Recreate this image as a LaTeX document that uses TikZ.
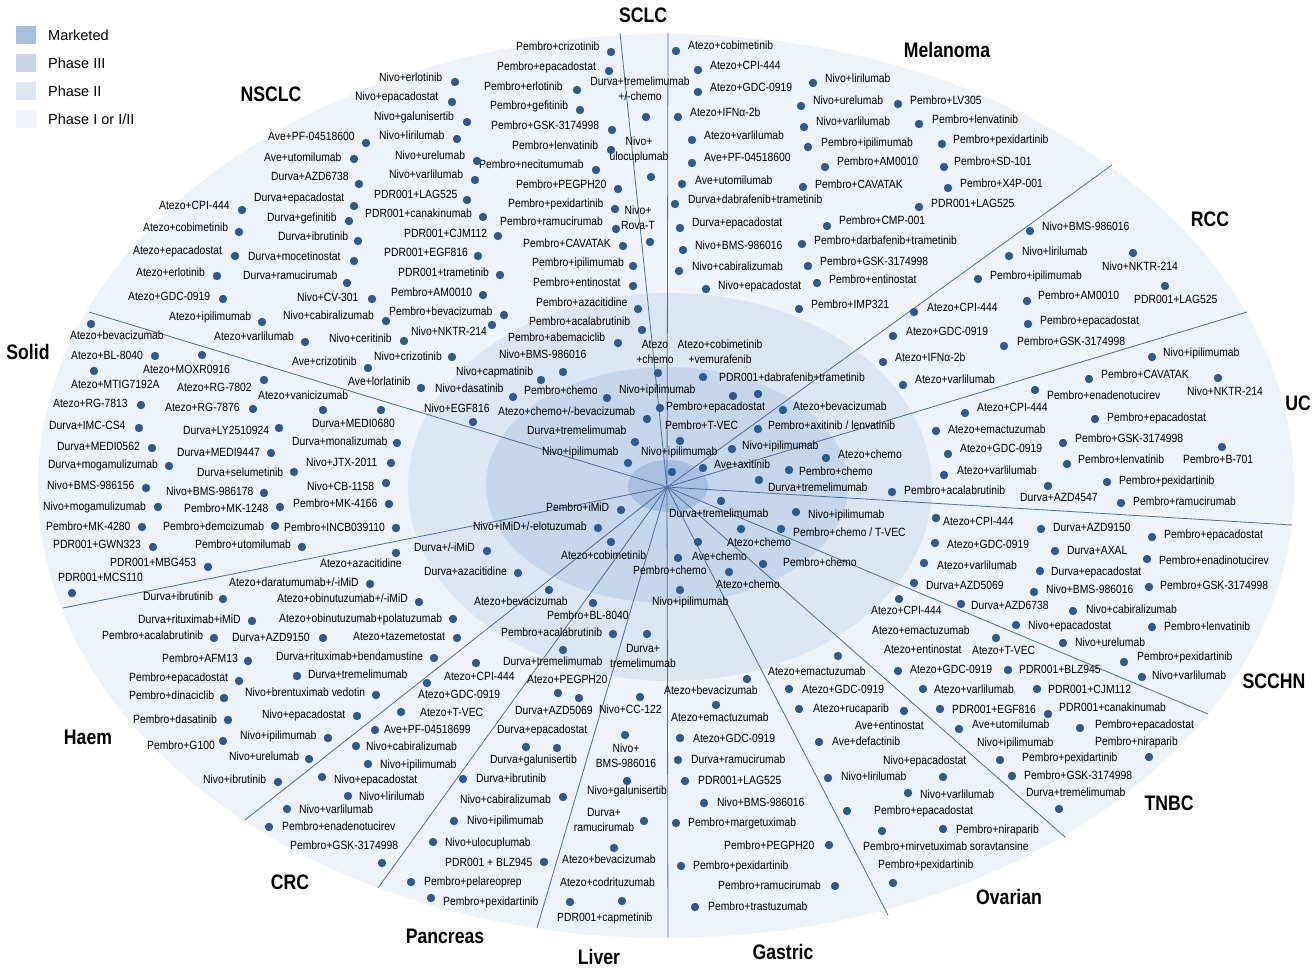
\documentclass[tikz,border=0pt]{standalone}
\usepackage{fontspec}
\setmainfont{Liberation Sans}
\newfontfamily\drugfont[FakeStretch=0.87]{Liberation Sans}
\newfontfamily\catfont[FakeStretch=0.84]{Liberation Sans}
\definecolor{phaseone}{HTML}{EEF3F9}
\definecolor{phasetwo}{HTML}{DCE6F2}
\definecolor{phasethree}{HTML}{C6D6EB}
\definecolor{marketed}{HTML}{A6BFDF}
\definecolor{dotblue}{HTML}{2D5B8F}
\definecolor{linecol}{HTML}{4E6E9E}
\tikzset{
  drug/.style={anchor=west,inner sep=0pt,text height=8pt,text depth=2.3pt,text=black,
    font=\drugfont\fontsize{11.9}{12.5}\selectfont},
  drugtwo/.style={inner sep=0pt,align=center,text=black,
    font=\drugfont\fontsize{11.9}{15}\selectfont},
  dot/.style={fill=dotblue},
  sector/.style={draw=linecol,line width=0.8pt},
  catlabel/.style={inner sep=0pt,font=\catfont\bfseries\fontsize{21}{24}\selectfont},
  legtext/.style={anchor=west,inner sep=0pt,font=\fontsize{14.5}{16}\selectfont},
}
\begin{document}
\begin{tikzpicture}[x=1pt,y=-1pt]
\useasboundingbox (0,0) rectangle (1316,974);
% Phasen
\fill[phaseone] (666,486) ellipse [x radius=628,y radius=452];
\fill[phasetwo] (670,487) ellipse [x radius=262,y radius=194];
\fill[phasethree] (667,485) ellipse [x radius=181,y radius=118];
\fill[marketed] (668,486) ellipse [x radius=40,y radius=26];
% Legende
\foreach \c/\y/\lbl [count=\i] in {marketed/35/{Marketed},phasethree/63/{Phase III},phasetwo/91/{Phase II},phaseone/119/{Phase I or I/II}}{
  \fill[\c] (16,\y-9) rectangle (36,\y+9);
  \node[legtext] (leg\i) at (48,\y) {\lbl};
}
% Sektoren
\coordinate (ctr) at (667,487);
\foreach \x/\y [count=\i] in {620/33,668/33,1112/165,1247/312,1292/525,1208/714,1065/837,888/915,668/937,537/928,378/888,245/820,63/608,89/312}{
  \coordinate (e\i) at (\x,\y);
  \draw[sector] (ctr) -- (e\i);
}
% Indikationen
\foreach \x/\y/\lbl [count=\i] in {643/15/SCLC,947/50/Melanoma,271/94/NSCLC,1210/219/RCC,28/352/Solid,1298/403/UC,1274/681/SCCHN,88/737/Haem,1169/803/TNBC,290/882/CRC,1009/897/Ovarian,445/936/Pancreas,599/957/Liver,783/952/Gastric}
  \node[catlabel] (cat\i) at (\x,\y) {\lbl};
% NSCLC
\foreach \x/\y/\lbl [count=\i] in {268/138/{Ave+PF-04518600},264/159/{Ave+utomilumab},271/178/{Durva+AZD6738},254/199/{Durva+epacadostat},267/219/{Durva+gefinitib},278/238/{Durva+ibrutinib},248/258/{Durva+mocetinostat},243/277/{Durva+ramucirumab},297/299/{Nivo+CV-301},283/317/{Nivo+cabiralizumab},159/207/{Atezo+CPI-444},143/229/{Atezo+cobimetinib},133/252/{Atezo+epacadostat},136/274/{Atezo+erlotinib},128/298/{Atezo+GDC-0919},169/318/{Atezo+ipilimumab},214/338/{Atezo+varlilumab},329/340/{Nivo+ceritinib},292/363/{Ave+crizotinib},374/358/{Nivo+crizotinib},348/383/{Ave+lorlatinib},379/79/{Nivo+erlotinib},355/98/{Nivo+epacadostat},374/118/{Nivo+galunisertib},379/137/{Nivo+lirilumab},395/157/{Nivo+urelumab},389/176/{Nivo+varlilumab},374/196/{PDR001+LAG525},365/215/{PDR001+canakinumab},404/235/{PDR001+CJM112},384/254/{PDR001+EGF816},398/274/{PDR001+trametinib},391/294/{Pembro+AM0010},389/313/{Pembro+bevacizumab},411/333/{Nivo+NKTR-214},516/48/{Pembro+crizotinib},497/68/{Pembro+epacadostat},484/88/{Pembro+erlotinib},490/107/{Pembro+gefitinib},491/127/{Pembro+GSK-3174998},512/147/{Pembro+lenvatinib},479/166/{Pembro+necitumumab},516/186/{Pembro+PEGPH20},508/205/{Pembro+pexidartinib},500/223/{Pembro+ramucirumab},523/245/{Pembro+CAVATAK},532/264/{Pembro+ipilimumab},533/284/{Pembro+entinostat},536/304/{Pembro+azacitidine},529/323/{Pembro+acalabrutinib},508/339/{Pembro+abemaciclib},499/356/{Nivo+BMS-986016},456/373/{Nivo+capmatinib},435/390/{Nivo+dasatinib},524/392/{Pembro+chemo},424/410/{Nivo+EGF816},498/413/{Atezo+chemo+/-bevacizumab},527/432/{Durva+tremelimumab},542/453/{Nivo+ipilimumab}}
  \node[drug] (nsclc\i) at (\x,\y) {\lbl};
\foreach \x/\y in {366/143,354/159,359/184,354/206,349/221,358/241,354/261,347/283,372/299,386/321,242/210,239/232,235/256,217/276,223/299,262/322,305/342,404/341,368/368,452/357,421/388,455/82,452/102,467/122,457/139,477/161,475/180,467/200,483/217,498/236,478/256,500/275,483/295,504/315,492/325,611/52,609/71,577/90,580/110,612/130,611/150,596/170,618/189,615/209,616/229,623/246,633/266,633/286,638/309,642/330,618/343,563/372,541/380,513/397,607/398,473/422,647/419,635/442,628/463}
  \fill[dot] (\x,\y) circle (4.2);
% SCLC
\node[drugtwo] (sclc1) at (640,89) {Durva+tremelimumab\\+/-chemo};
\node[drugtwo] (sclc2) at (639,150) {Nivo+\\ulocuplumab};
\node[drugtwo] (sclc3) at (638,218) {Nivo+\\Rova-T};
\node[drugtwo] (sclc4) at (655,352) {Atezo\\+chemo};
\node[drugtwo] (sclc5) at (720,352) {Atezo+cobimetinib\\+vemurafenib};
\foreach \x/\y/\lbl [count=\i] in {719/379/{PDR001+dabrafenib+trametinib},619/391/{Nivo+ipilimumab},666/408/{Pembro+epacadostat},665/427/{Pembro+T-VEC},641/453/{Nivo+ipilimumab}}
  \node[drug] (core\i) at (\x,\y) {\lbl};
\foreach \x/\y in {646/117,651/177,650/242,658/373,703/377,733/396,758/394,660/408,680/441,672/472}
  \fill[dot] (\x,\y) circle (4.2);
% Melanoma
\foreach \x/\y/\lbl [count=\i] in {688/47/{Atezo+cobimetinib},710/67/{Atezo+CPI-444},710/89/{Atezo+GDC-0919},690/114/{Atezo+IFNα-2b},704/137/{Atezo+varlilumab},704/159/{Ave+PF-04518600},695/182/{Ave+utomilumab},688/201/{Durva+dabrafenib+trametinib},692/224/{Durva+epacadostat},695/247/{Nivo+BMS-986016},692/268/{Nivo+cabiralizumab},718/287/{Nivo+epacadostat},811/306/{Pembro+IMP321},825/80/{Nivo+lirilumab},813/102/{Nivo+urelumab},816/123/{Nivo+varlilumab},821/144/{Pembro+ipilimumab},837/163/{Pembro+AM0010},815/186/{Pembro+CAVATAK},839/222/{Pembro+CMP-001},814/242/{Pembro+darbafenib+trametinib},820/263/{Pembro+GSK-3174998},829/281/{Pembro+entinostat},910/102/{Pembro+LV305},932/121/{Pembro+lenvatinib},953/141/{Pembro+pexidartinib},954/163/{Pembro+SD-101},960/185/{Pembro+X4P-001},931/205/{PDR001+LAG525},793/408/{Atezo+bevacizumab},768/427/{Pembro+axitinib / lenvatinib}}
  \node[drug] (mel\i) at (\x,\y) {\lbl};
\foreach \x/\y in {676/51,698/70,698/92,678/117,692/140,692/163,682/184,675/204,680/228,683/250,679/271,706/289,799/309,813/83,801/106,804/127,808/147,825/167,803/187,827/226,802/244,808/266,817/283,898/104,919/124,942/144,944/167,948/188,919/207,783/410,758/429}
  \fill[dot] (\x,\y) circle (4.2);
% RCC
\foreach \x/\y/\lbl [count=\i] in {1042/228/{Nivo+BMS-986016},1022/253/{Nivo+lirilumab},990/277/{Pembro+ipilimumab},1038/297/{Pembro+AM0010},1040/322/{Pembro+epacadostat},1102/268/{Nivo+NKTR-214},1134/301/{PDR001+LAG525},927/309/{Atezo+CPI-444},906/333/{Atezo+GDC-0919},1017/343/{Pembro+GSK-3174998},895/359/{Atezo+IFNα-2b},915/381/{Atezo+varlilumab},742/447/{Nivo+ipilimumab},714/466/{Ave+axitinib}}
  \node[drug] (rcc\i) at (\x,\y) {\lbl};
\foreach \x/\y in {1030/231,1009/256,978/279,1027/301,1028/324,1133/253,1165/286,914/312,893/336,1004/346,883/362,903/385,732/449,703/468}
  \fill[dot] (\x,\y) circle (4.2);
% UC
\foreach \x/\y/\lbl [count=\i] in {1163/354/{Nivo+ipilimumab},1101/376/{Pembro+CAVATAK},1187/393/{Nivo+NKTR-214},1047/397/{Pembro+enadenotucirev},977/409/{Atezo+CPI-444},1107/419/{Pembro+epacadostat},948/431/{Atezo+emactuzumab},1075/440/{Pembro+GSK-3174998},960/450/{Atezo+GDC-0919},1078/461/{Pembro+lenvatinib},1183/461/{Pembro+B-701},957/472/{Atezo+varlilumab},1119/482/{Pembro+pexidartinib},904/492/{Pembro+acalabrutinib},1020/499/{Durva+AZD4547},1133/503/{Pembro+ramucirumab},838/456/{Atezo+chemo},799/473/{Pembro+chemo},768/489/{Durva+tremelimumab}}
  \node[drug] (uc\i) at (\x,\y) {\lbl};
\foreach \x/\y in {1152/357,1089/379,1218/378,1035/390,965/413,1095/419,936/431,1063/443,948/454,1067/464,1222/447,944/475,1107/482,892/492,1048/486,1121/503,826/458,789/470,759/480}
  \fill[dot] (\x,\y) circle (4.2);
% SCCHN
\foreach \x/\y/\lbl [count=\i] in {943/523/{Atezo+CPI-444},1053/529/{Durva+AZD9150},1164/536/{Pembro+epacadostat},947/546/{Atezo+GDC-0919},1067/552/{Durva+AXAL},1159/562/{Pembro+enadinotucirev},937/567/{Atezo+varlilumab},1051/573/{Durva+epacadostat},926/587/{Durva+AZD5069},1046/591/{Nivo+BMS-986016},1160/587/{Pembro+GSK-3174998},971/607/{Durva+AZD6738},1086/611/{Nivo+cabiralizumab},1028/627/{Nivo+epacadostat},1164/628/{Pembro+lenvatinib},1075/644/{Nivo+urelumab},1137/658/{Pembro+pexidartinib},1152/677/{Nivo+varlilumab},669/515/{Durva+tremelimumab},808/516/{Nivo+ipilimumab},793/534/{Pembro+chemo / T-VEC}}
  \node[drug] (scchn\i) at (\x,\y) {\lbl};
\foreach \x/\y in {936/518,1041/529,1152/537,935/543,1055/551,1147/559,924/563,1040/571,914/583,1034/592,1149/587,961/604,1073/611,1016/625,1152/627,1063/643,1124/662,1142/677,721/501,796/512,781/529}
  \fill[dot] (\x,\y) circle (4.2);
% TNBC
\foreach \x/\y/\lbl [count=\i] in {871/612/{Atezo+CPI-444},872/632/{Atezo+emactuzumab},884/651/{Atezo+entinostat},972/652/{Atezo+T-VEC},910/671/{Atezo+GDC-0919},1019/671/{PDR001+BLZ945},934/691/{Atezo+varlilumab},1048/691/{PDR001+CJM112},952/711/{PDR001+EGF816},1059/709/{PDR001+canakinumab},972/726/{Ave+utomilumab},1095/726/{Pembro+epacadostat},977/744/{Nivo+ipilimumab},1095/743/{Pembro+niraparib},1022/759/{Pembro+pexidartinib},1024/777/{Pembro+GSK-3174998},1026/794/{Durva+tremelimumab},727/544/{Atezo+chemo}}
  \node[drug] (tnbc\i) at (\x,\y) {\lbl};
\foreach \x/\y in {899/599,996/638,898/671,1008/670,923/689,1037/689,940/709,1048/714,959/729,1080/728,1000/760,1149/757,1012/776,1059/809,741/529}
  \fill[dot] (\x,\y) circle (4.2);
% Ovarian
\foreach \x/\y/\lbl [count=\i] in {768/673/{Atezo+emactuzumab},802/691/{Atezo+GDC-0919},813/710/{Atezo+rucaparib},855/727/{Ave+entinostat},832/743/{Ave+defactinib},883/762/{Nivo+epacadostat},841/778/{Nivo+lirilumab},920/796/{Nivo+varlilumab},874/812/{Pembro+epacadostat},956/831/{Pembro+niraparib},863/848/{Pembro+mirvetuximab soravtansine},878/866/{Pembro+pexidartinib},692/558/{Ave+chemo},783/564/{Pembro+chemo}}
  \node[drug] (ova\i) at (\x,\y) {\lbl};
\foreach \x/\y in {838/656,789/689,799/709,904/711,819/742,943/777,828/778,908/793,847/811,943/829,882/831,893/883,678/558,763/564}
  \fill[dot] (\x,\y) circle (4.2);
% Gastric
\foreach \x/\y/\lbl [count=\i] in {664/692/{Atezo+bevacizumab},671/719/{Atezo+emactuzumab},693/740/{Atezo+GDC-0919},691/761/{Durva+ramucirumab},698/782/{PDR001+LAG525},717/804/{Nivo+BMS-986016},688/824/{Pembro+margetuximab},724/847/{Pembro+PEGPH20},693/867/{Pembro+pexidartinib},718/887/{Pembro+ramucirumab},708/908/{Pembro+trastuzumab},633/572/{Pembro+chemo},716/586/{Atezo+chemo},652/603/{Nivo+ipilimumab}}
  \node[drug] (gas\i) at (\x,\y) {\lbl};
\foreach \x/\y in {747/679,716/705,680/738,678/760,685/781,704/803,676/823,829/845,681/866,835/886,695/907,698/542,729/572,680/590}
  \fill[dot] (\x,\y) circle (4.2);
% Liver
\node[drugtwo] (liv1) at (643,656) {Durva+\\tremelimumab};
\node[drugtwo] (liv2) at (626,756) {Nivo+\\BMS-986016};
\node[drugtwo] (liv3) at (604,820) {Durva+\\ramucirumab};
\foreach \x/\y/\lbl [count=\i] in {599/711/{Nivo+CC-122},587/792/{Nivo+galunisertib},562/861/{Atezo+bevacizumab},560/884/{Atezo+codrituzumab},557/919/{PDR001+capmetinib}}
  \node[drug] (liver\i) at (\x,\y) {\lbl};
\foreach \x/\y in {647/634,640/697,625/735,627/781,644/821,614/848,622/901,570/902}
  \fill[dot] (\x,\y) circle (4.2);
% Pancreas
\foreach \x/\y/\lbl [count=\i] in {503/663/{Durva+tremelimumab},527/681/{Atezo+PEGPH20},515/712/{Durva+AZD5069},497/731/{Durva+epacadostat},490/761/{Durva+galunisertib},476/780/{Durva+ibrutinib},460/801/{Nivo+cabiralizumab},467/822/{Nivo+ipilimumab},445/844/{Nivo+ulocuplumab},445/864/{PDR001 + BLZ945},424/883/{Pembro+pelareoprep},443/903/{Pembro+pexidartinib},501/634/{Pembro+acalabrutinib},547/617/{Pembro+BL-8040},474/603/{Atezo+bevacizumab},561/557/{Atezo+cobimetinib}}
  \node[drug] (pan\i) at (\x,\y) {\lbl};
\foreach \x/\y in {563/650,558/693,579/698,526/747,557/748,463/779,563/797,454/821,433/842,544/862,411/882,431/898,613/634,593/603,549/590,611/542}
  \fill[dot] (\x,\y) circle (4.2);
% CRC
\foreach \x/\y/\lbl [count=\i] in {444/678/{Atezo+CPI-444},418/696/{Atezo+GDC-0919},420/714/{Atezo+T-VEC},384/731/{Ave+PF-04518699},366/748/{Nivo+cabiralizumab},380/766/{Nivo+ipilimumab},334/781/{Nivo+epacadostat},359/798/{Nivo+lirilumab},299/811/{Nivo+varlilumab},282/828/{Pembro+enadenotucirev},290/847/{Pembro+GSK-3174998}}
  \node[drug] (crc\i) at (\x,\y) {\lbl};
\foreach \x/\y in {476/663,427/683,401/712,375/730,356/746,368/764,322/777,348/796,287/809,269/827,382/863}
  \fill[dot] (\x,\y) circle (4.2);
% Haem
\foreach \x/\y/\lbl [count=\i] in {320/565/{Atezo+azacitidine},229/584/{Atezo+daratumumab+/-iMiD},143/598/{Durva+ibrutinib},277/600/{Atezo+obinutuzumab+/-iMiD},138/621/{Durva+rituximab+iMiD},279/620/{Atezo+obinutuzumab+polatuzumab},102/637/{Pembro+acalabrutinib},232/639/{Durva+AZD9150},353/638/{Atezo+tazemetostat},162/660/{Pembro+AFM13},276/658/{Durva+rituximab+bendamustine},129/679/{Pembro+epacadostat},308/676/{Durva+tremelimumab},129/697/{Pembro+dinaciclib},245/694/{Nivo+brentuximab vedotin},133/721/{Pembro+dasatinib},262/716/{Nivo+epacadostat},147/747/{Pembro+G100},240/737/{Nivo+ipilimumab},229/758/{Nivo+urelumab},203/781/{Nivo+ibrutinib},546/509/{Pembro+iMiD},473/528/{Nivo+iMiD+/-elotuzumab},414/549/{Durva+/-iMiD},424/573/{Durva+azacitidine}}
  \node[drug] (haem\i) at (\x,\y) {\lbl};
\foreach \x/\y in {396/553,370/584,223/599,419/602,252/621,453/619,214/638,323/638,457/638,248/661,434/658,239/681,297/676,224/698,376/695,228/720,357/716,223/741,328/738,309/759,278/782,621/510,598/528,487/551,518/573}
  \fill[dot] (\x,\y) circle (4.2);
% Solid
\foreach \x/\y/\lbl [count=\i] in {70/337/{Atezo+bevacizumab},71/357/{Atezo+BL-8040},143/371/{Atezo+MOXR0916},71/386/{Atezo+MTIG7192A},177/389/{Atezo+RG-7802},258/397/{Atezo+vanicizumab},53/405/{Atezo+RG-7813},165/409/{Atezo+RG-7876},312/425/{Durva+MEDI0680},49/427/{Durva+IMC-CS4},183/432/{Durva+LY2510924},292/443/{Durva+monalizumab},57/448/{Durva+MEDI0562},177/454/{Durva+MEDI9447},306/464/{Nivo+JTX-2011},48/466/{Durva+mogamulizumab},197/474/{Durva+selumetinib},307/488/{Nivo+CB-1158},47/487/{Nivo+BMS-986156},166/493/{Nivo+BMS-986178},43/508/{Nivo+mogamulizumab},184/510/{Pembro+MK-1248},293/505/{Pembro+MK-4166},46/528/{Pembro+MK-4280},163/528/{Pembro+demcizumab},284/529/{Pembro+INCB039110},53/546/{PDR001+GWN323},195/546/{Pembro+utomilumab},110/564/{PDR001+MBG453},58/579/{PDR001+MCS110}}
  \node[drug] (solid\i) at (\x,\y) {\lbl};
\foreach \x/\y in {91/324,155/356,202/355,94/371,264/380,323/410,141/405,253/409,381/410,139/428,279/428,397/443,152/448,271/453,391/463,169/466,294/472,386/483,146/488,264/493,158/507,280/507,389/504,142/527,275/526,396/528,153/547,302/547,208/567,72/593}
  \fill[dot] (\x,\y) circle (4.2);
\end{tikzpicture}
\end{document}
